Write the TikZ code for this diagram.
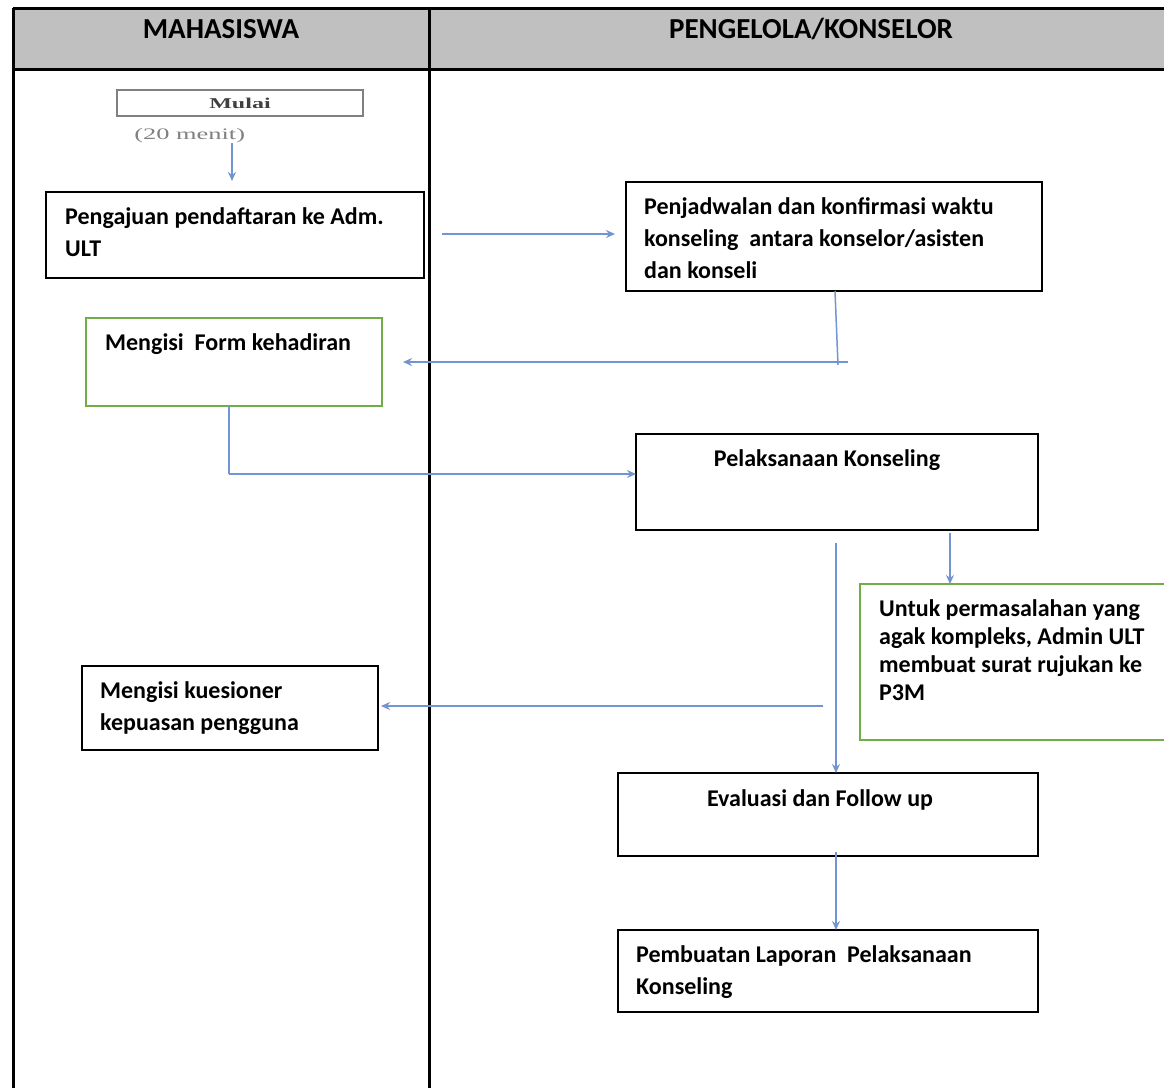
\documentclass[tikz,border=0pt]{standalone}
\usepackage{fontspec}
\setmainfont{Carlito}
\newfontfamily\serifb{Liberation Serif}
\usetikzlibrary{arrows.meta,calc}
\definecolor{arrowblue}{HTML}{7294D0}
\definecolor{hdrgrey}{HTML}{C0C0C0}
\definecolor{boxgreen}{HTML}{70AD47}
\tikzset{
  frame/.style={line width=3pt,black},
  box/.style={draw=black,line width=2pt,rectangle,inner sep=0pt},
  gbox/.style={draw=boxgreen,line width=2pt,rectangle,inner sep=0pt},
  txt/.style={anchor=base west,inner sep=0pt,align=left,font=\fontsize{24}{32}\selectfont\bfseries},
  ctxt/.style={anchor=base,inner sep=0pt,font=\fontsize{24}{32}\selectfont\bfseries},
  hdr/.style={anchor=base,inner sep=0pt,font=\fontsize{29}{32}\selectfont\bfseries},
  conn/.style={draw=arrowblue,line width=2.5pt},
  arr/.style={conn,-{Stealth[length=9pt,width=8pt]}}
}
\begin{document}
\begin{tikzpicture}[x=1pt,y=-1pt]
\useasboundingbox (0,0) rectangle (1164,1087);
\clip (0,0) rectangle (1164,1087);
% header
\fill[hdrgrey] (13,8) rectangle (1170,69);
\draw[frame] (13,8) -- (1170,8);
\draw[frame] (13,69) -- (1170,69);
\draw[frame] (13,8) -- (13,1095);
\draw[frame] (429,8) -- (429,1095);
\node[hdr] (h1) at (221,38) {MAHASISWA};
\node[hdr] (h2) at (811,38) {PENGELOLA/KONSELOR};
% start
\node[draw=gray,line width=2.5pt,minimum width=246pt,minimum height=26pt,inner sep=0pt] (mulai) at (240,103) {};
\node[inner sep=0pt,xscale=1.6,text=darkgray] (mulait) at (240,103) {\serifb\fontsize{15}{16}\selectfont\bfseries Mulai};
\node[anchor=base west,inner sep=0pt,xscale=1.65,text=gray] (menit) at (134,139) {\serifb\fontsize{16}{17}\selectfont (20 menit)};
% boxes
\node[box,minimum width=378pt,minimum height=86pt] (b1) at (235,235) {};
\node[txt] (t1) at (65,256) {Pengajuan pendaftaran ke Adm.\\ULT};
\node[box,minimum width=416pt,minimum height=109pt] (b2) at (834,236.5) {};
\node[txt] (t2) at (644,278) {Penjadwalan dan konfirmasi waktu\\konseling\ \ antara konselor/asisten\\dan konseli};
\node[gbox,minimum width=296pt,minimum height=88pt] (g1) at (234,362) {};
\node[txt] (tg1) at (105,350) {Mengisi\ \ Form kehadiran};
\node[box,minimum width=402pt,minimum height=96pt] (b3) at (837,482) {};
\node[ctxt] (t3) at (827,466) {Pelaksanaan Konseling};
\node[gbox,minimum width=320pt,minimum height=156pt] (g2) at (1020,662) {};
\node[txt,font=\fontsize{24}{28}\selectfont\bfseries] (tg2) at (879,700) {Untuk permasalahan yang\\agak kompleks, Admin ULT\\membuat surat rujukan ke\\P3M};
\node[box,minimum width=296pt,minimum height=84pt] (b5) at (230,708) {};
\node[txt] (t5) at (100,730) {Mengisi kuesioner\\kepuasan pengguna};
\node[box,minimum width=420pt,minimum height=83pt] (b6) at (828,814.5) {};
\node[ctxt] (t6) at (820,806) {Evaluasi dan Follow up};
\node[box,minimum width=420pt,minimum height=82pt] (b7) at (828,971) {};
\node[txt] (t7) at (636,994) {Pembuatan Laporan\ \ Pelaksanaan\\Konseling};
% connector points
\coordinate (c1s) at (232,143);
\coordinate (c1e) at (232,181);
\coordinate (c2s) at (442,234);
\coordinate (c2e) at (615,234);
\coordinate (c3a) at (835,291);
\coordinate (c3b) at (838,365);
\coordinate (c3c) at (848,362);
\coordinate (c3e) at (403,362);
\coordinate (c4s) at (229,406);
\coordinate (c4b) at (229,474);
\coordinate (c4e) at (636,474);
\coordinate (c5s) at (836,543);
\coordinate (c5e) at (836,773);
\coordinate (c6s) at (950,533);
\coordinate (c6e) at (950,584);
\coordinate (c7s) at (823,706);
\coordinate (c7e) at (381,706);
\coordinate (c8s) at (836,852);
\coordinate (c8e) at (836,930);
% connectors
\draw[arr,line width=1.5pt] (c1s) -- (c1e);
\draw[arr] (c2s) -- (c2e);
\draw[conn,line width=1.5pt] (c3a) -- (c3b);
\draw[arr] (c3c) -- (c3e);
\draw[conn,line width=1.5pt] (c4s) -- (c4b);
\draw[arr] (c4b) -- (c4e);
\draw[arr,line width=1.5pt] (c5s) -- (c5e);
\draw[arr,line width=1.5pt] (c6s) -- (c6e);
\draw[arr] (c7s) -- (c7e);
\draw[arr,line width=1.5pt] (c8s) -- (c8e);
\end{tikzpicture}
\end{document}
